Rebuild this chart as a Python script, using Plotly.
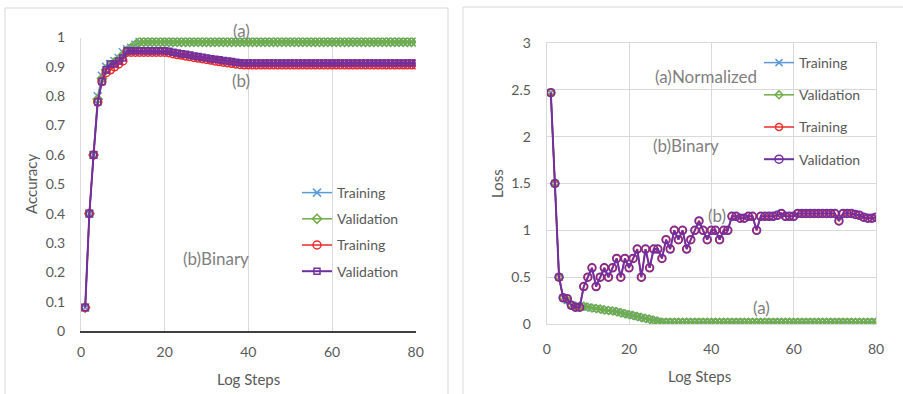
import plotly.graph_objects as go

W, H = 903, 394

steps = list(range(1, 81))
x_ticks = [0, 20, 40, 60, 80]

acc_a_train = [0.08, 0.40, 0.60, 0.80, 0.87, 0.90, 0.91, 0.92, 0.93, 0.95,
               0.96, 0.965, 0.975, 0.985, 0.985, 0.985, 0.985, 0.985, 0.985, 0.985,
               0.985, 0.985, 0.985, 0.985, 0.985, 0.985, 0.985, 0.985, 0.985, 0.985,
               0.985, 0.985, 0.985, 0.985, 0.985, 0.985, 0.985, 0.985, 0.985, 0.985,
               0.985, 0.985, 0.985, 0.985, 0.985, 0.985, 0.985, 0.985, 0.985, 0.985,
               0.985, 0.985, 0.985, 0.985, 0.985, 0.985, 0.985, 0.985, 0.985, 0.985,
               0.985, 0.985, 0.985, 0.985, 0.985, 0.985, 0.985, 0.985, 0.985, 0.985,
               0.985, 0.985, 0.985, 0.985, 0.985, 0.985, 0.985, 0.985, 0.985, 0.985]
acc_a_val = [0.08, 0.40, 0.60, 0.79, 0.86, 0.89, 0.905, 0.915, 0.925, 0.94,
             0.955, 0.965, 0.975, 0.985, 0.985, 0.985, 0.985, 0.985, 0.985, 0.985,
             0.985, 0.985, 0.985, 0.985, 0.985, 0.985, 0.985, 0.985, 0.985, 0.985,
             0.985, 0.985, 0.985, 0.985, 0.985, 0.985, 0.985, 0.985, 0.985, 0.985,
             0.985, 0.985, 0.985, 0.985, 0.985, 0.985, 0.985, 0.985, 0.985, 0.985,
             0.985, 0.985, 0.985, 0.985, 0.985, 0.985, 0.985, 0.985, 0.985, 0.985,
             0.985, 0.985, 0.985, 0.985, 0.985, 0.985, 0.985, 0.985, 0.985, 0.985,
             0.985, 0.985, 0.985, 0.985, 0.985, 0.985, 0.985, 0.985, 0.985, 0.985]
acc_b_train = [0.08, 0.40, 0.60, 0.78, 0.85, 0.88, 0.89, 0.90, 0.91, 0.92,
               0.95, 0.95, 0.95, 0.95, 0.95, 0.95, 0.95, 0.95, 0.95, 0.95,
               0.948, 0.945, 0.942, 0.94, 0.937, 0.935, 0.932, 0.93, 0.928, 0.925,
               0.923, 0.92, 0.918, 0.916, 0.914, 0.912, 0.91, 0.908, 0.907, 0.907,
               0.907, 0.907, 0.907, 0.907, 0.907, 0.907, 0.907, 0.907, 0.907, 0.907,
               0.907, 0.907, 0.907, 0.907, 0.907, 0.907, 0.907, 0.907, 0.907, 0.907,
               0.907, 0.907, 0.907, 0.907, 0.907, 0.907, 0.907, 0.907, 0.907, 0.907,
               0.907, 0.907, 0.907, 0.907, 0.907, 0.907, 0.907, 0.907, 0.907, 0.907]
acc_b_val = [0.08, 0.40, 0.60, 0.78, 0.85, 0.89, 0.91, 0.91, 0.92, 0.93,
             0.955, 0.955, 0.955, 0.955, 0.955, 0.955, 0.955, 0.955, 0.955, 0.955,
             0.953, 0.95, 0.947, 0.945, 0.943, 0.94, 0.937, 0.935, 0.933, 0.93,
             0.928, 0.926, 0.924, 0.922, 0.92, 0.918, 0.916, 0.914, 0.913, 0.913,
             0.913, 0.913, 0.913, 0.913, 0.913, 0.913, 0.913, 0.913, 0.913, 0.913,
             0.913, 0.913, 0.913, 0.913, 0.913, 0.913, 0.913, 0.913, 0.913, 0.913,
             0.913, 0.913, 0.913, 0.913, 0.913, 0.913, 0.913, 0.913, 0.913, 0.913,
             0.913, 0.913, 0.913, 0.913, 0.913, 0.913, 0.913, 0.913, 0.913, 0.913]

loss_a_train = [2.47, 1.50, 0.50, 0.28, 0.25, 0.20, 0.19, 0.19, 0.19, 0.18,
                0.17, 0.165, 0.16, 0.15, 0.145, 0.14, 0.13, 0.12, 0.11, 0.10,
                0.09, 0.08, 0.07, 0.06, 0.05, 0.04, 0.03, 0.02, 0.02, 0.02,
                0.02, 0.02, 0.02, 0.02, 0.02, 0.02, 0.02, 0.02, 0.02, 0.02,
                0.02, 0.02, 0.02, 0.02, 0.02, 0.02, 0.02, 0.02, 0.02, 0.02,
                0.02, 0.02, 0.02, 0.02, 0.02, 0.02, 0.02, 0.02, 0.02, 0.02,
                0.02, 0.02, 0.02, 0.02, 0.02, 0.02, 0.02, 0.02, 0.02, 0.02,
                0.02, 0.02, 0.02, 0.02, 0.02, 0.02, 0.02, 0.02, 0.02, 0.02]
loss_a_val = [2.47, 1.50, 0.50, 0.28, 0.25, 0.20, 0.19, 0.19, 0.19, 0.18,
              0.17, 0.165, 0.16, 0.15, 0.145, 0.14, 0.13, 0.12, 0.11, 0.10,
              0.09, 0.08, 0.07, 0.06, 0.05, 0.04, 0.03, 0.02, 0.02, 0.02,
              0.02, 0.02, 0.02, 0.02, 0.02, 0.02, 0.02, 0.02, 0.02, 0.02,
              0.02, 0.02, 0.02, 0.02, 0.02, 0.02, 0.02, 0.02, 0.02, 0.02,
              0.02, 0.02, 0.02, 0.02, 0.02, 0.02, 0.02, 0.02, 0.02, 0.02,
              0.02, 0.02, 0.02, 0.02, 0.02, 0.02, 0.02, 0.02, 0.02, 0.02,
              0.02, 0.02, 0.02, 0.02, 0.02, 0.02, 0.02, 0.02, 0.02, 0.02]
loss_b_train = [2.47, 1.50, 0.50, 0.28, 0.27, 0.20, 0.18, 0.18, 0.40, 0.50,
                0.60, 0.40, 0.50, 0.60, 0.50, 0.60, 0.70, 0.50, 0.70, 0.60,
                0.70, 0.80, 0.50, 0.80, 0.60, 0.80, 0.80, 0.70, 0.90, 0.80,
                1.00, 0.90, 1.00, 0.80, 0.90, 1.00, 1.10, 1.00, 0.90, 1.00,
                1.00, 0.90, 1.00, 1.00, 1.15, 1.15, 1.13, 1.13, 1.15, 1.15,
                1.00, 1.15, 1.15, 1.15, 1.15, 1.16, 1.18, 1.15, 1.15, 1.15,
                1.18, 1.18, 1.18, 1.18, 1.18, 1.18, 1.18, 1.18, 1.18, 1.18,
                1.10, 1.18, 1.18, 1.18, 1.17, 1.16, 1.14, 1.13, 1.13, 1.14]
loss_b_val = [2.47, 1.50, 0.50, 0.28, 0.27, 0.20, 0.18, 0.18, 0.40, 0.50,
              0.60, 0.40, 0.50, 0.60, 0.50, 0.60, 0.70, 0.50, 0.70, 0.60,
              0.70, 0.80, 0.50, 0.80, 0.60, 0.80, 0.80, 0.70, 0.90, 0.80,
              1.00, 0.90, 1.00, 0.80, 0.90, 1.00, 1.10, 1.00, 0.90, 1.00,
              1.00, 0.90, 1.00, 1.00, 1.15, 1.15, 1.13, 1.13, 1.15, 1.15,
              1.00, 1.15, 1.15, 1.15, 1.15, 1.16, 1.18, 1.15, 1.15, 1.15,
              1.18, 1.18, 1.18, 1.18, 1.18, 1.18, 1.18, 1.18, 1.18, 1.18,
              1.10, 1.18, 1.18, 1.18, 1.17, 1.16, 1.14, 1.13, 1.13, 1.14]

BLUE, GREEN, RED, PURPLE = "#5B9BD5", "#70AD47", "#EE2A2A", "#7030A0"
TXT = "#595959"
GRID = "#D9D9D9"
FONT = "Lato"


def px(x):
    return x / W


def py(y):
    return (H - y) / H


fig = go.Figure()

left_series = [
    ("Training", acc_a_train, BLUE, "x-thin-open", 8, 1.5),
    ("Validation", acc_a_val, GREEN, "diamond-open", 7, 1.5),
    ("Training", acc_b_train, RED, "circle-open", 8, 1.5),
    ("Validation", acc_b_val, PURPLE, "square-open", 6, 2),
]
for i, (name, vals, col, sym, size, lw) in enumerate(left_series):
    fig.add_trace(go.Scatter(
        x=steps, y=vals, name=name, mode="lines+markers",
        line=dict(color=col, width=lw),
        marker=dict(symbol=sym, size=size, color=col, line=dict(width=1.5, color=col)),
        xaxis="x", yaxis="y", legend="legend", legendgroup=f"l{i}",
    ))

right_series = [
    ("Training", loss_a_train, BLUE, "x-thin-open", 7, 1.5),
    ("Validation", loss_a_val, GREEN, "diamond-open", 6, 1.5),
    ("Training", loss_b_train, RED, "circle-open", 7, 1.5),
    ("Validation", loss_b_val, PURPLE, "circle-open", 8, 2),
]
for i, (name, vals, col, sym, size, lw) in enumerate(right_series):
    fig.add_trace(go.Scatter(
        x=steps, y=vals, name=name, mode="lines+markers",
        line=dict(color=col, width=lw),
        marker=dict(symbol=sym, size=size, color=col, line=dict(width=1.5, color=col)),
        xaxis="x2", yaxis="y2", legend="legend2", legendgroup=f"r{i}",
    ))

tickfont = dict(family=FONT, size=14, color=TXT)

fig.update_layout(
    template="none",
    width=W, height=H, autosize=False,
    margin=dict(l=0, r=0, t=0, b=0, pad=0, autoexpand=False),
    paper_bgcolor="white", plot_bgcolor="white",
    font=dict(family=FONT, size=14, color=TXT),
    xaxis=dict(domain=[px(81), px(415.7)], range=[0, 80], tickvals=x_ticks,
               showgrid=True, gridcolor=GRID, gridwidth=1, zeroline=False,
               showline=True, linecolor="#404040", linewidth=1.5, automargin=False,
               ticks="", tickfont=tickfont, ticklabelstandoff=7, anchor="y"),
    yaxis=dict(domain=[py(331), py(37.5)], range=[0, 1], dtick=0.1,
               showgrid=False, zeroline=False, showline=True, linecolor=GRID,
               automargin=False,
               ticks="", tickfont=tickfont, ticklabelstandoff=12, anchor="x"),
    xaxis2=dict(domain=[px(546.7), px(876)], range=[0, 80], tickvals=x_ticks,
                showgrid=True, gridcolor=GRID, zeroline=False, automargin=False,
                showline=True, linecolor=GRID, mirror=True,
                ticks="", tickfont=tickfont, ticklabelstandoff=12, anchor="y2"),
    yaxis2=dict(domain=[py(324), py(43)], range=[0, 3], dtick=0.5,
                showgrid=True, gridcolor=GRID, zeroline=False, automargin=False,
                showline=True, linecolor=GRID, mirror=True,
                ticks="", tickfont=tickfont, ticklabelstandoff=12, anchor="x2"),
    legend=dict(x=px(297), y=py(177), xanchor="left", yanchor="top",
                bgcolor="rgba(0,0,0,0)", font=dict(family=FONT, size=14, color=TXT),
                traceorder="grouped", tracegroupgap=5, itemwidth=30),
    legend2=dict(x=px(759), y=py(47), xanchor="left", yanchor="top",
                 bgcolor="rgba(0,0,0,0)", font=dict(family=FONT, size=14, color=TXT),
                 traceorder="grouped", tracegroupgap=11, itemwidth=30),
    showlegend=True,
)

# panel frames
fig.add_shape(type="rect", xref="paper", yref="paper",
              x0=px(5), x1=px(448), y0=-0.02, y1=py(8),
              line=dict(color=GRID, width=1))
fig.add_shape(type="rect", xref="paper", yref="paper",
              x0=px(463), x1=1.02, y0=-0.02, y1=py(7),
              line=dict(color=GRID, width=1))

notes = [
    ("(a)", 241, 30, 17), ("(b)", 241, 80, 17), ("(b)Binary", 216, 258, 17),
    ("(a)Normalized", 706, 77, 17), ("(b)Binary", 686, 145, 17),
    ("(b)", 717, 215, 17), ("(a)", 761, 307, 17),
    ("Accuracy", 31, 184, 15), ("Log Steps", 248, 379, 15),
    ("Loss", 497, 184, 15), ("Log Steps", 699, 376, 15),
]
for text, xx, yy, fs in notes:
    fig.add_annotation(
        text=text, xref="paper", yref="paper", x=px(xx), y=py(yy),
        xanchor="center", yanchor="middle", showarrow=False,
        textangle=-90 if text in ("Accuracy", "Loss") else 0,
        font=dict(family=FONT, size=fs, color="#7F7F7F" if fs == 17 else TXT),
    )

fig.write_html(
    "out.html",
    config={"displayModeBar": False, "responsive": False},
    post_script="document.body.style.margin='0';document.body.style.overflow='hidden';",
)
